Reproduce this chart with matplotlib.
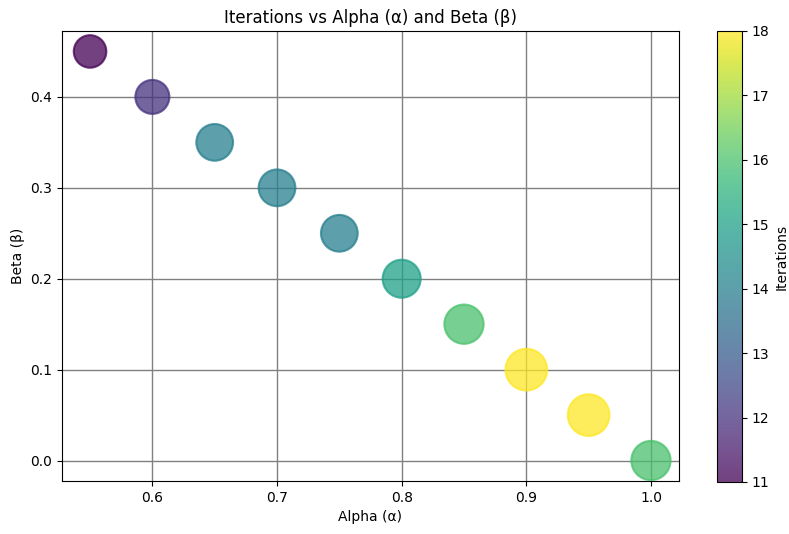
import numpy as np
import matplotlib
matplotlib.use("Agg")
import matplotlib.pyplot as plt

alpha_vals = [0.55, 0.60, 0.65, 0.70, 0.75, 0.80, 0.85, 0.90, 0.95, 1.00]
beta_vals = [0.45, 0.40, 0.35, 0.30, 0.25, 0.20, 0.15, 0.10, 0.05, 0.00]
iterations = [11, 12, 14, 14, 14, 15, 16, 18, 18, 16]

fig = plt.figure(figsize=(7.89, 5.34), dpi=100)
ax = fig.add_axes([62 / 789, 1 - 481 / 534, (679 - 62) / 789, (481 - 31) / 534])
cax = fig.add_axes([717 / 789, 1 - 482 / 534, 25 / 789, (482 - 31) / 534])

# default edgecolor is 'face', so the ring shows darker where it overlaps the fill
sc = ax.scatter(alpha_vals, beta_vals, c=iterations, cmap="viridis",
                s=[i * 50 for i in iterations], alpha=0.75,
                linewidths=1.5, zorder=3)
ax.grid(True, color="gray", linewidth=1, zorder=0)
ax.set_axisbelow(True)
ax.set_xlim(0.5275, 1.0225)
ax.set_ylim(-0.0225, 0.4725)
ax.set_xticks([0.6, 0.7, 0.8, 0.9, 1.0])
ax.set_yticks([0.0, 0.1, 0.2, 0.3, 0.4])
ax.tick_params(labelsize=10)
ax.set_xlabel("Alpha (α)", fontsize=10)
ax.set_ylabel("Beta (β)", fontsize=10)
ax.set_title("Iterations vs Alpha (α) and Beta (β)", fontsize=12, pad=6)

cb = fig.colorbar(sc, cax=cax)
cb.set_label("Iterations", fontsize=10)
cb.ax.tick_params(labelsize=10)

fig.savefig("out.png", dpi=100)
